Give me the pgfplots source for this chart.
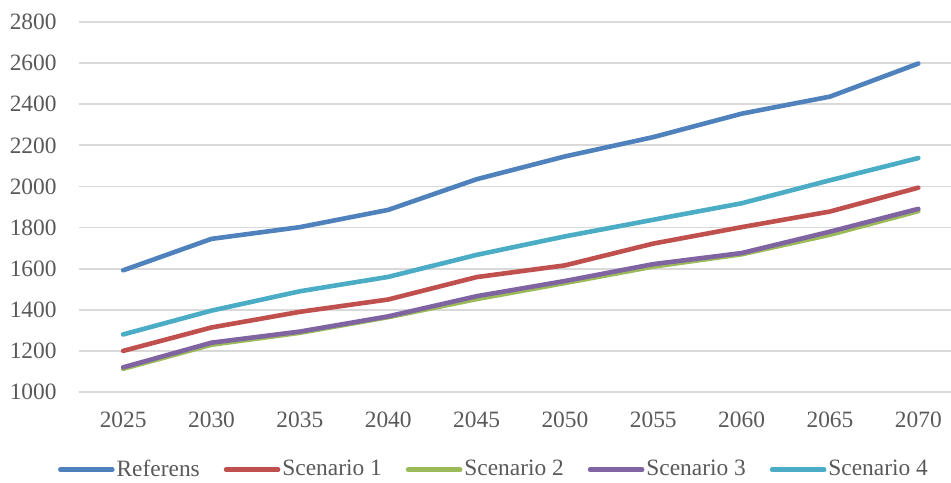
\documentclass[border=0pt]{standalone}
\usepackage{fontspec}
\setmainfont{Liberation Serif}
\usepackage{pgfplots}
\pgfplotsset{compat=1.18}

\definecolor{cref}{HTML}{4F81BD}
\definecolor{cs1}{HTML}{C0504D}
\definecolor{cs2}{HTML}{9BBB59}
\definecolor{cs3}{HTML}{8064A2}
\definecolor{cs4}{HTML}{4BACC6}
\definecolor{txt}{HTML}{595959}
\definecolor{gridc}{HTML}{D9D9D9}

\begin{document}
\begin{tikzpicture}
\begin{axis}[
	at={(0,0)}, anchor=south west,
	scale only axis,
	width=436pt, height=185pt,
	xmin=-0.5, xmax=9.37,
	ymin=1000, ymax=2800,
	xtick={0,...,9},
	xticklabels={2025,2030,2035,2040,2045,2050,2055,2060,2065,2070},
	ytick={1000,1200,...,2800},
	axis line style={draw=none},
	major tick length=0pt,
	xmajorgrids=false,
	ymajorgrids=true,
	major grid style={draw=gridc, line width=0.9pt},
	tick label style={font=\fontsize{11.7}{13}\selectfont, text=txt},
	/pgf/number format/assume math mode=true,
	/pgf/number format/1000 sep={},
	yticklabel style={inner sep=0pt, anchor=east, xshift=-11pt},
	xticklabel style={inner sep=0pt, anchor=center, yshift=-14pt},
	every axis plot/.append style={line width=2.3pt, line join=round, line cap=round, mark=none},
	legend columns=5,
	legend style={
		draw=none, fill=none,
		at={(0.477,-0.21)}, anchor=center,
		font=\fontsize{11.7}{13}\selectfont, text=txt,
		/tikz/every even column/.append style={column sep=10pt},
		/tikz/every odd column/.append style={column sep=-1pt},
		inner sep=0pt,
	},
	legend cell align=left,
	legend image code/.code={\draw[#1, line width=2.3pt, line cap=round] (0pt,0pt) -- (26pt,0pt);},
]
% Referens
\addplot[cref] coordinates {
(0,1592) (1,1745) (2,1802) (3,1886) (4,2035) (5,2146) (6,2240) (7,2354) (8,2437) (9,2598)
};
\addlegendentry{Referens}
% Scenario 1
\addplot[cs1] coordinates {
(0,1200) (1,1314) (2,1390) (3,1450) (4,1559) (5,1616) (6,1722) (7,1802) (8,1878) (9,1994)
};
\addlegendentry{Scenario 1}
% Scenario 2
\addplot[cs2] coordinates {
(0,1113) (1,1230) (2,1288) (3,1364) (4,1452) (5,1530) (6,1610) (7,1670) (8,1765) (9,1880)
};
\addlegendentry{Scenario 2}
% Scenario 3
\addplot[cs3] coordinates {
(0,1120) (1,1240) (2,1294) (3,1368) (4,1466) (5,1540) (6,1622) (7,1676) (8,1780) (9,1891)
};
\addlegendentry{Scenario 3}
% Scenario 4
\addplot[cs4] coordinates {
(0,1280) (1,1396) (2,1490) (3,1560) (4,1667) (5,1757) (6,1838) (7,1918) (8,2030) (9,2138)
};
\addlegendentry{Scenario 4}
\end{axis}
\pgfresetboundingbox
\path (-39.5pt,-45pt) rectangle (436pt,196pt);
\end{tikzpicture}
\end{document}
